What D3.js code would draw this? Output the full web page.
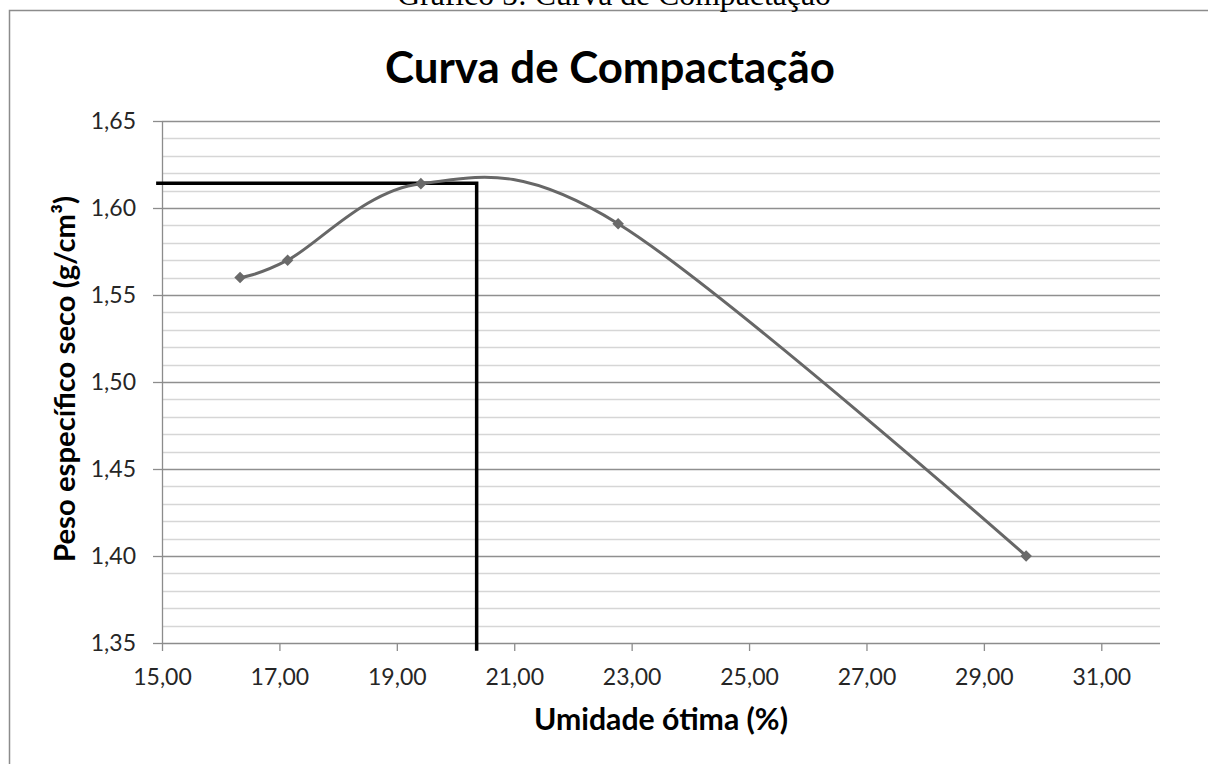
<!DOCTYPE html>
<html>
<head>
<meta charset="utf-8">
<script src="https://cdn.jsdelivr.net/npm/d3@7"></script>
<style>
  body { margin: 0; background: #fff; }
  svg { display: block; }
  .tick text { font-family: Lato, "Open Sans", sans-serif; fill: #262626; }
</style>
</head>
<body>
<div id="chart"></div>
<script>
// data
var umidade = [16.33, 17.14, 19.41, 22.77, 29.72];
var pesoSeco = [1.560, 1.570, 1.614, 1.591, 1.400];
var xTicks = [15, 17, 19, 21, 23, 25, 27, 29, 31];
var yTicks = [1.35, 1.40, 1.45, 1.50, 1.55, 1.60, 1.65];
var yMinor = d3.range(136, 165).map(function(d){ return d / 100; });
// optimum lines (horizontal to the axis, then down)
var otimoX = [14.9, 20.36, 20.36];
var otimoY = [1.6142, 1.6142, 1.3455];

var width = 1208,
    height = 764;

var margin = {top: 121, right: 48, bottom: 121, left: 162};

var svg = d3.select("#chart").append("svg")
    .attr("width", width)
    .attr("height", height);

// scale a text's font so it fills a given width
function fitWidth(sel, w) {
  var fs = parseFloat(sel.style("font-size"));
  var len = sel.node().getComputedTextLength();
  sel.style("font-size", (fs * w / len) + "px");
  return fs * w / len;
}

// chart frame
svg.append("rect")
    .attr("x", 9.5).attr("y", 10.5)
    .attr("width", 1230).attr("height", 800)
    .attr("fill", "none")
    .attr("stroke", "#8c8c8c")
    .attr("stroke-width", 1.5);

// caption above the frame (cut by the page top)
var caption = svg.append("text")
    .attr("x", 614).attr("y", 5)
    .attr("text-anchor", "middle")
    .style("font-family", "'Liberation Serif', 'Times New Roman', serif")
    .style("font-size", "30px")
    .text("Gráfico 5: Curva de Compactação");
fitWidth(caption, 434);

var title = svg.append("text")
    .attr("x", 610).attr("y", 83)
    .attr("text-anchor", "middle")
    .style("font-family", "Lato, sans-serif")
    .style("font-weight", "bold")
    .style("font-size", "44px")
    .text("Curva de Compactação");
fitWidth(title, 450);

var x = d3.scaleLinear().domain([15, 32]).range([margin.left, width - margin.right]);
var y = d3.scaleLinear().domain([1.35, 1.65]).range([height - margin.bottom, margin.top]);

// minor grid
svg.append("g").selectAll("line")
    .data(yMinor.filter(function(d){ return Math.round(d*100) % 5 != 0; }))
  .enter().append("line")
    .attr("x1", x(15)).attr("x2", x(32))
    .attr("y1", function(d){ return Math.round(y(d)) + 0.5; })
    .attr("y2", function(d){ return Math.round(y(d)) + 0.5; })
    .attr("stroke", "#d6d6d6")
    .attr("stroke-width", 1.6);

// major grid
svg.append("g").selectAll("line")
    .data(yTicks.slice(1))
  .enter().append("line")
    .attr("x1", x(15)).attr("x2", x(32))
    .attr("y1", function(d){ return Math.round(y(d)) + 0.5; })
    .attr("y2", function(d){ return Math.round(y(d)) + 0.5; })
    .attr("stroke", "#8f8f8f")
    .attr("stroke-width", 1.3);

var fmt = function(n){ return function(d){ return d.toFixed(n).replace(".", ","); }; };

var xAxis = svg.append("g")
    .attr("transform", "translate(0," + y(1.35) + ")")
    .call(d3.axisBottom(x).tickValues(xTicks).tickFormat(fmt(2)).tickSize(8).tickPadding(17).tickSizeOuter(0));

var yAxis = svg.append("g")
    .attr("transform", "translate(" + x(15) + ",0)")
    .call(d3.axisLeft(y).tickValues(yTicks).tickFormat(fmt(2)).tickSize(9).tickPadding(17).tickSizeOuter(0));

[xAxis, yAxis].forEach(function(a){
  a.selectAll("path, line").attr("stroke", "#8c8c8c").attr("stroke-width", 1.3);
  a.selectAll("text").style("font-size", "23px");
});
xAxis.selectAll("text").attr("dy", "0.72em");
xAxis.select(".domain").attr("d", "M" + x(15) + ",0.5H" + x(32));

// axis titles
var xTitle = svg.append("text")
    .attr("x", (x(15) + x(32)) / 2).attr("y", 730)
    .attr("text-anchor", "middle")
    .style("font-family", "Lato, sans-serif")
    .style("font-weight", "bold")
    .style("font-size", "30px")
    .text("Umidade ótima (%)");
fitWidth(xTitle, 254);

var yTitle = svg.append("text")
    .attr("text-anchor", "middle")
    .style("font-family", "Lato, sans-serif")
    .style("font-weight", "bold")
    .style("font-size", "28px")
    .text("Peso específico seco (g/cm³)");
var yfs = fitWidth(yTitle, 366);
yTitle.attr("transform", "translate(" + (54 + 0.72 * yfs) + "," + ((y(1.35) + y(1.65)) / 2 - 3) + ") rotate(-90)");

// optimum lines
var otimo = d3.zip(otimoX, otimoY);
svg.append("path")
    .datum(otimo)
    .attr("fill", "none")
    .attr("stroke", "#000")
    .attr("stroke-width", 3.5)
    .attr("d", d3.line().x(function(d){ return x(d[0]); }).y(function(d){ return y(d[1]); }));

// the curve
var pts = d3.zip(umidade, pesoSeco);
svg.append("path")
    .datum(pts)
    .attr("fill", "none")
    .attr("stroke", "#676767")
    .attr("stroke-width", 3)
    .attr("d", d3.line().curve(d3.curveCatmullRom.alpha(0))
      .x(function(d){ return x(d[0]); }).y(function(d){ return y(d[1]); }));

svg.append("g").selectAll("path")
    .data(pts)
  .enter().append("path")
    .attr("transform", function(d){ return "translate(" + x(d[0]) + "," + y(d[1]) + ")"; })
    .attr("d", d3.symbol().type(d3.symbolDiamond2).size(85))
    .attr("fill", "#6a6a6a");
</script>
</body>
</html>
